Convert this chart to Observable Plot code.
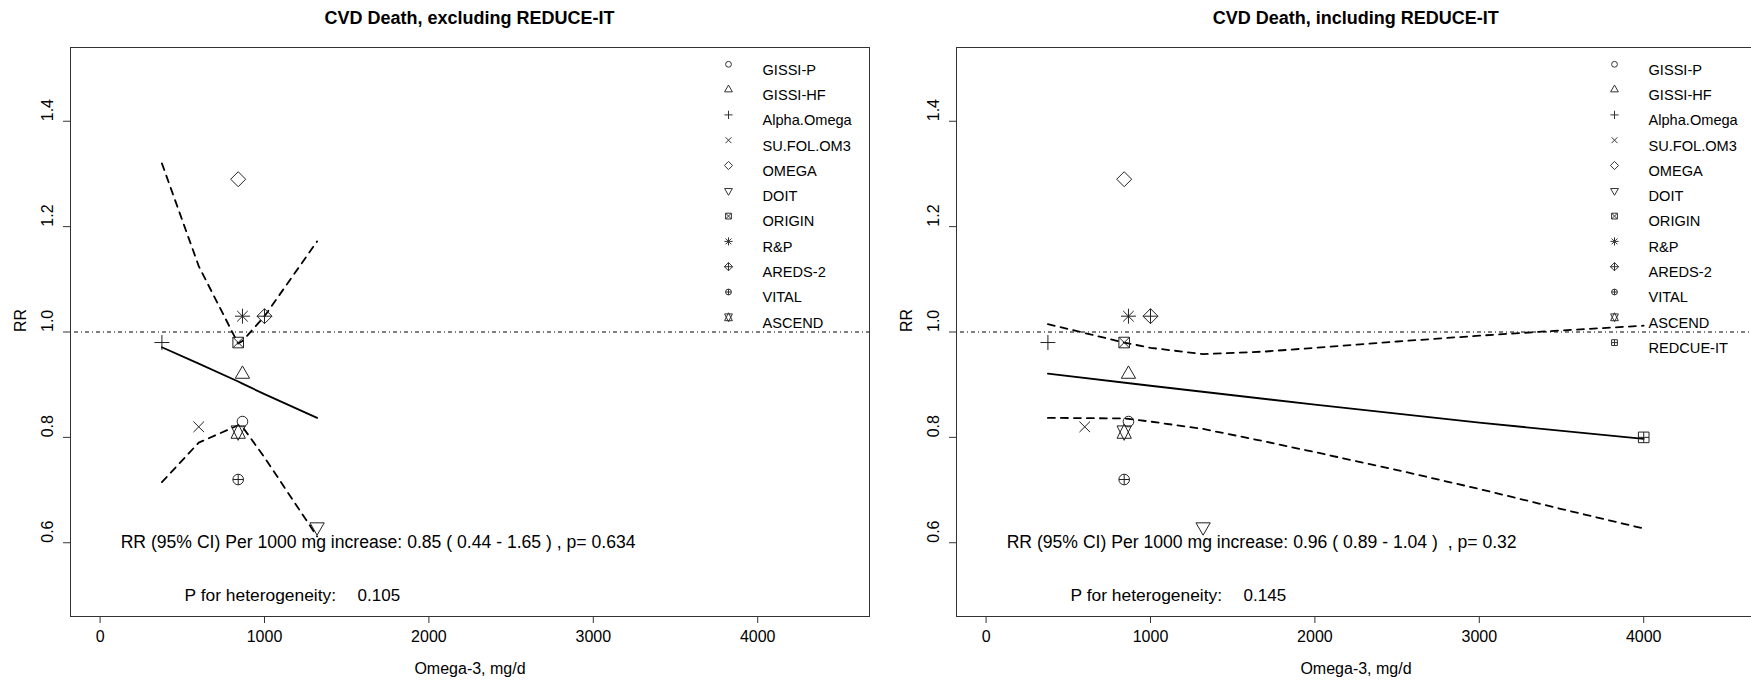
<!DOCTYPE html>
<html><head><meta charset="utf-8">
<script src="https://cdn.jsdelivr.net/npm/d3@7"></script>
<script src="https://cdn.jsdelivr.net/npm/@observablehq/plot@0.6"></script>
<style>
html,body{margin:0;padding:0;background:#fff;overflow:hidden;width:1751px;height:681px}
#wrap{position:relative;width:1751px;height:681px;overflow:hidden;background:#fff}
.panel{position:absolute;top:0;width:886px;height:681px}
.title{height:34px;box-sizing:border-box;padding:0 17px 0 70px;text-align:center;font:bold 18px "Liberation Sans",Arial,sans-serif;line-height:36px;white-space:nowrap;color:#000}
</style></head><body><div id="wrap"></div>
<script>
// ---- data ----
const studies = ["GISSI-P","GISSI-HF","Alpha.Omega","SU.FOL.OM3","OMEGA","DOIT","ORIGIN","R&P","AREDS-2","VITAL","ASCEND","REDCUE-IT"];
const pch     = [1, 2, 3, 4, 5, 6, 7, 8, 9, 10, 11, 12];
const dose    = [866, 866, 376, 600, 840, 1320, 840, 866, 1000, 840, 840, 4000];
const rr      = [0.83, 0.92, 0.98, 0.82, 1.29, 0.63, 0.98, 1.03, 1.03, 0.72, 0.81, 0.80];

const xTicks = [0, 1000, 2000, 3000, 4000];
const yTicks = [0.6, 0.8, 1.0, 1.2, 1.4];
const xLim = [0, 4500];
const yLim = [0.5, 1.5];

// left: excluding REDUCE-IT
const exFitX = [376, 600, 840, 866, 1000, 1320];
const exFitY = [0.971, 0.94, 0.906, 0.902, 0.882, 0.837];
const exUpX  = [376, 600, 840, 866, 1000, 1320];
const exUpY  = [1.32, 1.125, 0.978, 0.983, 1.03, 1.172];
const exLoX  = [376, 600, 840, 866, 1000, 1320];
const exLoY  = [0.715, 0.79, 0.823, 0.82, 0.762, 0.612];

// right: including REDUCE-IT
const inFitX = [376, 1000, 2000, 3000, 4000];
const inFitY = [0.921, 0.898, 0.862, 0.828, 0.797];
const inUpX  = [376, 600, 840, 1000, 1320, 1700, 2000, 2500, 3000, 3500, 4000];
const inUpY  = [1.015, 0.998, 0.98, 0.97, 0.958, 0.963, 0.97, 0.982, 0.993, 1.003, 1.012];
const inLoX  = [376, 840, 1000, 1320, 1700, 2000, 2500, 3000, 3500, 4000];
const inLoY  = [0.837, 0.836, 0.83, 0.816, 0.792, 0.772, 0.738, 0.702, 0.664, 0.627];

const titles = ["CVD Death, excluding REDUCE-IT", "CVD Death, including REDUCE-IT"];
const estText = ["RR (95% CI) Per 1000 mg increase: 0.85 ( 0.44 - 1.65 ) , p= 0.634",
                 "RR (95% CI) Per 1000 mg increase: 0.96 ( 0.89 - 1.04 )\u00a0\u00a0, p= 0.32"];
const hetLabel = "P for heterogeneity:";
const hetValue = ["0.105", "0.145"];
const estPos = [125, 0.6];
const hetLabelPos = [514, 0.5];
const hetValuePos = [1566, 0.5];

// ---- R-like plotting symbols ----
const T0 = 1.5551, T1 = 1.3468, T2 = 0.7776, S2 = Math.SQRT2;
const circ = (c,R)=>{c.moveTo(R,0); c.arc(0,0,R,0,2*Math.PI);};
const sq = (c,x)=>{c.moveTo(-x,-x); c.lineTo(x,-x); c.lineTo(x,x); c.lineTo(-x,x); c.closePath();};
const plus = (c,x)=>{c.moveTo(-x,0); c.lineTo(x,0); c.moveTo(0,-x); c.lineTo(0,x);};
const times = (c,x)=>{c.moveTo(-x,-x); c.lineTo(x,x); c.moveTo(-x,x); c.lineTo(x,-x);};
const diam = (c,x)=>{c.moveTo(-x,0); c.lineTo(0,-x); c.lineTo(x,0); c.lineTo(0,x); c.closePath();};
const tri = (c,R,s)=>{const r=T0*R, yc=T2*R, xc=T1*R; c.moveTo(0,-s*r); c.lineTo(xc,s*yc); c.lineTo(-xc,s*yc); c.closePath();};
const star = (c,R)=>{const r=T0*R, yc=0.5*(T2*R+r), xc=T1*R;
  c.moveTo(0,-r); c.lineTo(xc,yc); c.lineTo(-xc,yc); c.closePath();
  c.moveTo(0,r); c.lineTo(xc,-yc); c.lineTo(-xc,-yc); c.closePath();};
const drawers = {
  1:(c,R)=>circ(c,R), 2:(c,R)=>tri(c,R,1), 3:(c,R)=>plus(c,S2*R), 4:(c,R)=>times(c,R),
  5:(c,R)=>diam(c,S2*R), 6:(c,R)=>tri(c,R,-1), 7:(c,R)=>{sq(c,R);times(c,R);},
  8:(c,R)=>{times(c,R);plus(c,S2*R);}, 9:(c,R)=>{diam(c,S2*R);plus(c,S2*R);},
  10:(c,R)=>{circ(c,R);plus(c,R);}, 11:(c,R)=>star(c,R), 12:(c,R)=>{sq(c,R);plus(c,R);}
};
const symbolOf = p => ({draw(ctx, size){ drawers[p](ctx, Math.sqrt(size/Math.PI)); }});

const ext = l => [l[0] - 0.04*(l[1]-l[0]), l[1] + 0.04*(l[1]-l[0])];
const zipXY = (xs, ys) => xs.map((x,i) => ({x, y: ys[i]}));

function makePanel(k){
  const n = k === 0 ? 11 : 12;
  const fit = k === 0 ? zipXY(exFitX, exFitY) : zipXY(inFitX, inFitY);
  const up  = k === 0 ? zipXY(exUpX, exUpY) : zipXY(inUpX, inUpY);
  const lo  = k === 0 ? zipXY(exLoX, exLoY) : zipXY(inLoX, inLoY);
  const pts = studies.slice(0, n).map((s,i) => ({s, x: dose[i], y: rr[i], p: pch[i]}));
  const marks = [
    Plot.ruleY([1], {stroke: "#000", strokeWidth: 1, strokeDasharray: "1,3,4,3"}),
    Plot.line(up, {x: "x", y: "y", stroke: "#000", strokeWidth: 1.8, strokeDasharray: "7,6"}),
    Plot.line(lo, {x: "x", y: "y", stroke: "#000", strokeWidth: 1.8, strokeDasharray: "7,6"}),
    Plot.line(fit, {x: "x", y: "y", stroke: "#000", strokeWidth: 1.8}),
  ];
  pts.forEach((d, i) => {
    marks.push(Plot.dot([d], {x: "x", y: "y", symbol: symbolOf(d.p), r: 5.3, fill: "none", stroke: "#222", strokeWidth: 1}));
    marks.push(Plot.dot([d], {frameAnchor: "top-right", dx: -141, dy: 16.8 + i*25.3, symbol: symbolOf(d.p), r: 2.9, fill: "none", stroke: "#333", strokeWidth: 1}));
    marks.push(Plot.text([d.s], {frameAnchor: "top-right", dx: -107, dy: 16.8 + i*25.3, text: t => t, textAnchor: "start", fontSize: 14.6, fill: "#000"}));
  });
  marks.push(
    Plot.text([estText[k]], {x: estPos[0], y: estPos[1], text: t => t, textAnchor: "start", fontSize: 17.6, fill: "#000"}),
    Plot.text([hetLabel], {x: hetLabelPos[0], y: hetLabelPos[1], text: t => t, textAnchor: "start", fontSize: 17.4, fill: "#000"}),
    Plot.text([hetValue[k]], {x: hetValuePos[0], y: hetValuePos[1], text: t => t, textAnchor: "start", fontSize: 17, fill: "#000"}),
    Plot.frame({stroke: "#333", strokeWidth: 1}),
    Plot.axisX({ticks: xTicks, tickSize: 7, tickPadding: 7, fontSize: 16, label: null, tickFormat: d => String(d), stroke: "#333"}),
    Plot.axisY({ticks: yTicks, tickSize: 7, tickFormat: () => "", label: null, stroke: "#333"}),
    Plot.text(yTicks, {y: d => d, text: d => d.toFixed(1), frameAnchor: "left", dx: -23, rotate: -90, fontSize: 16, fill: "#000"}),
    Plot.text(["RR"], {frameAnchor: "left", dx: -50, rotate: -90, text: t => t, fontSize: 16, fill: "#000"}),
    Plot.text(["Omega-3, mg/d"], {frameAnchor: "bottom", dy: 57, text: t => t, fontSize: 16, fill: "#000"})
  );
  return Plot.plot({
    width: 886, height: 647,
    marginLeft: 70, marginRight: 17, marginTop: 13, marginBottom: 65,
    x: {domain: ext(xLim)}, y: {domain: ext(yLim)},
    style: {fontFamily: "'Liberation Sans', Arial, sans-serif", fontSize: "16px", background: "#fff", color: "#000", overflow: "visible"},
    marks
  });
}

const wrap = document.getElementById("wrap");
[0, 1].forEach(k => {
  const div = document.createElement("div");
  div.className = "panel";
  div.style.left = (k * 886.3) + "px";
  const t = document.createElement("div");
  t.className = "title";
  t.textContent = titles[k];
  div.appendChild(t);
  div.appendChild(makePanel(k));
  wrap.appendChild(div);
});
</script></body></html>
